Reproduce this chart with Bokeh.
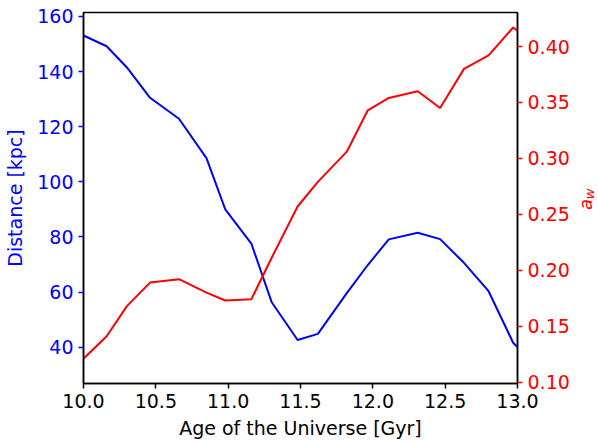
import numpy as np
from bokeh.plotting import figure
from bokeh.layouts import row
from bokeh.models import Range1d, LinearAxis, FixedTicker, NumeralTickFormatter
from bokeh.core.properties import value
from bokeh.embed import file_html
from bokeh.resources import INLINE

# Data
age = [10.0, 10.16, 10.30, 10.46, 10.66, 10.85, 10.98, 11.16, 11.30, 11.48,
       11.62, 11.82, 11.965, 12.11, 12.31, 12.465, 12.63, 12.80, 12.97, 13.13]
distance = [153.1, 149.2, 141.5, 130.5, 122.9, 108.6, 90.0, 77.6, 56.4, 42.6,
            44.8, 59.6, 69.8, 79.1, 81.5, 79.2, 70.6, 60.3, 41.6, 33.0]
a_w = [0.121, 0.141, 0.168, 0.189, 0.192, 0.180, 0.173, 0.174, 0.211, 0.257,
       0.279, 0.306, 0.343, 0.354, 0.360, 0.345, 0.380, 0.392, 0.417, 0.401]

x_ticks = [10.0, 10.5, 11.0, 11.5, 12.0, 12.5, 13.0]
left_ticks = [40, 60, 80, 100, 120, 140, 160]
right_ticks = [0.10, 0.15, 0.20, 0.25, 0.30, 0.35, 0.40]

FONT = "DejaVu Sans"
FS = "19px"
P_W_RIGHT = 54          # right border of main plot
TOTAL_W = 598

dist_range = Range1d(26.8, 161.45)

p = figure(frame_width=434, frame_height=371, output_backend="svg",
           toolbar_location=None,
           x_range=Range1d(10.0, 13.0), y_range=dist_range,
           min_border_left=83, min_border_top=12, min_border_right=P_W_RIGHT,
           min_border_bottom=10)
p.extra_y_ranges = {"aw": Range1d(0.0988, 0.4304)}
p.grid.visible = False
p.outline_line_color = "black"
p.outline_line_width = 1.5
p.background_fill_color = "white"
p.border_fill_color = "white"

p.line(age, distance, line_color="blue", line_width=2)
p.line(age, a_w, line_color="red", line_width=2, y_range_name="aw")

right = LinearAxis(y_range_name="aw")
p.add_layout(right, "right")

def style(ax, color):
    ax.axis_line_color = "black"
    ax.axis_line_width = 1.5
    ax.major_tick_line_color = color
    ax.major_tick_line_width = 1.5
    ax.major_tick_out = 5
    ax.major_tick_in = 0
    ax.minor_tick_line_color = None
    ax.major_label_standoff = 5
    ax.major_label_text_font = FONT
    ax.major_label_text_font_size = FS
    ax.major_label_text_color = color
    ax.axis_label_text_font = FONT
    ax.axis_label_text_font_size = FS
    ax.axis_label_text_font_style = "normal"
    ax.axis_label_text_color = color

xa = p.xaxis[0]
style(xa, "black")
xa.ticker = FixedTicker(ticks=x_ticks)
xa.formatter = NumeralTickFormatter(format="0.0")
xa.axis_label = "Age of the Universe [Gyr]"
xa.axis_label_standoff = 6

ya = p.yaxis[0]
style(ya, "blue")
ya.ticker = FixedTicker(ticks=left_ticks)
ya.axis_label = "Distance [kpc]"
ya.axis_label_standoff = 8

style(right, "red")
right.ticker = FixedTicker(ticks=right_ticks)
right.formatter = NumeralTickFormatter(format="0.00")

# Narrow side panel carrying the rotated "a_w" axis title (a with subscript w);
# its frame is aligned with the main frame and shares the distance y-range.
main_w = 83 + 434 + P_W_RIGHT
side_w = TOTAL_W - main_w
q = figure(frame_width=side_w, frame_height=371, output_backend="svg",
           toolbar_location=None,
           x_range=Range1d(0, side_w), y_range=dist_range,
           min_border_left=0, min_border_right=0, min_border_top=12,
           min_border_bottom=0, x_axis_location=None, y_axis_location=None)
q.grid.visible = False
q.outline_line_color = None
q.background_fill_color = "white"
q.border_fill_color = "white"
q.text(x=[583.5 - main_w], y=[91.8], text=["a"], angle=np.pi / 2, text_color="red",
       text_font=value(FONT), text_font_style="italic", text_font_size="18px",
       text_align="center", text_baseline="middle")
q.text(x=[588 - main_w], y=[95.6], text=["w"], angle=np.pi / 2, text_color="red",
       text_font=value(FONT), text_font_style="italic", text_font_size="13px",
       text_align="center", text_baseline="middle")

layout = row(p, q, spacing=0)
open("out.html", "w").write(file_html(layout, INLINE))
